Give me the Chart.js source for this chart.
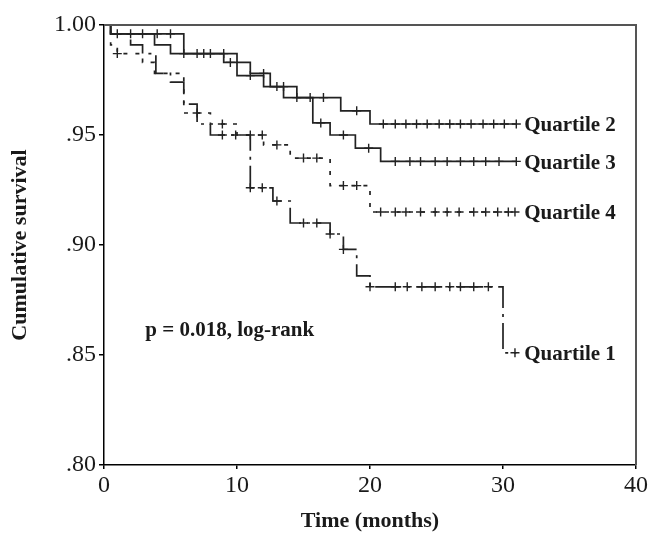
<!DOCTYPE html>
<html>
<head>
<meta charset="utf-8">
<script src="https://cdn.jsdelivr.net/npm/chart.js@4"></script>
<style>
  html, body { margin: 0; padding: 0; background: #fff; }
  #wrap { width: 650px; height: 536px; }
</style>
</head>
<body>
<div id="wrap"><canvas id="kmChart" width="650" height="536"></canvas></div>
<script>
//data block - step points (time in months, cumulative survival)
const q1Times  = [0, 0.5, 2, 2.9, 3.9, 5, 6, 7, 8, 11, 12.7, 14, 17, 18, 19, 20, 30, 31];
const q1Surv   = [1, .996, .991, .987, .978, .974, .964, .955, .950, .926, .920, .910, .905, .898, .886, .881, .851, .851];
const q1Censor = [8.9, 9.9, 11, 11.9, 13, 15, 16, 17, 18, 20, 21.9, 22.8, 23.9, 24.9, 26, 26.8, 27.8, 28.9, 30.9];

const q2Times  = [0, 0.5, 6, 10, 11, 12.5, 14.5, 17.8, 20, 31];
const q2Surv   = [1, .996, .987, .983, .978, .972, .967, .961, .955, .955];
const q2Censor = [1, 2, 2.9, 4, 5, 7, 8, 9, 12, 13.5, 15.5, 16.5, 19, 21, 21.9, 22.7, 23.5, 24.3, 25.2, 26, 26.8, 27.6, 28.5, 29.3, 30.1, 31];

const q3Times  = [0, 0.5, 3.8, 5, 9, 10, 12, 13.5, 15.7, 17, 18.9, 20.8, 31];
const q3Surv   = [1, .996, .991, .987, .983, .977, .972, .967, .9555, .950, .944, .938, .938];
const q3Censor = [6, 7.5, 9.5, 11, 13, 14.5, 16.3, 18, 19.9, 21.9, 23, 23.8, 24.9, 25.8, 26.8, 27.8, 28.7, 29.7, 31];

const q4Times  = [0, 0.5, 1, 2.9, 3.8, 6, 8, 10, 12, 14, 17, 20, 31];
const q4Surv   = [1, .991, .987, .983, .978, .960, .955, .950, .9455, .9395, .927, .915, .915];
const q4Censor = [1, 7, 8.9, 11, 11.9, 13, 15, 16, 18, 19, 20.8, 21.9, 22.7, 23.8, 24.9, 25.8, 26.7, 27.8, 28.7, 29.6, 30.4, 30.9];

const groupNames = ['Quartile 1', 'Quartile 2', 'Quartile 3', 'Quartile 4'];
const xTicks = [0, 10, 20, 30, 40];
const yTicks = [0.80, 0.85, 0.90, 0.95, 1.00];
const pText = 'p = 0.018, log-rank';

const serif = "'Liberation Serif', 'Times New Roman', serif";
const ink = '#222';

// value of the step curve at time t
function levelAt(times, surv, t) {
    let v = surv[0];
    for (let i = 0; i < times.length; i++) {
        if (times[i] <= t) v = surv[i];
    }
    return v;
}

function curve(times, surv, dash) {
    return {
        data: times.map((t, i) => ({ x: t, y: surv[i] })),
        showLine: true,
        stepped: 'before',
        borderColor: ink,
        borderWidth: 1.7,
        borderDash: dash,
        pointRadius: 0,
        fill: false
    };
}

function censors(times, surv, marks) {
    return {
        data: marks.map(t => ({ x: t, y: levelAt(times, surv, t) })),
        showLine: false,
        pointStyle: 'cross',
        pointRadius: 4.5,
        pointBorderWidth: 1.4,
        borderColor: ink,
        backgroundColor: ink
    };
}

const curves = [
    { times: q1Times, surv: q1Surv, marks: q1Censor, dash: [26, 6, 3, 6] },
    { times: q2Times, surv: q2Surv, marks: q2Censor, dash: [] },
    { times: q3Times, surv: q3Surv, marks: q3Censor, dash: [] },
    { times: q4Times, surv: q4Surv, marks: q4Censor, dash: [4, 8] }
];

const datasets = [];
curves.forEach(c => {
    datasets.push(curve(c.times, c.surv, c.dash));
    datasets.push(censors(c.times, c.surv, c.marks));
});

//frame + text labels
const labelPlugin = {
    id: 'kmLabels',
    afterDraw(chart) {
        const { ctx, chartArea, scales } = chart;
        ctx.save();
        // top and right border of the box
        ctx.strokeStyle = '#555';
        ctx.lineWidth = 2;
        ctx.beginPath();
        ctx.moveTo(chartArea.left, chartArea.top);
        ctx.lineTo(chartArea.right, chartArea.top);
        ctx.lineTo(chartArea.right, chartArea.bottom);
        ctx.stroke();

        ctx.fillStyle = '#1a1a1a';
        ctx.textBaseline = 'middle';
        ctx.textAlign = 'left';
        ctx.font = 'bold 21px ' + serif;
        curves.forEach((c, i) => {
            const last = c.surv[c.surv.length - 1];
            ctx.fillText(groupNames[i], scales.x.getPixelForValue(31.6), scales.y.getPixelForValue(last) + 2);
        });
        ctx.font = 'bold 21px ' + serif;
        ctx.fillText(pText, scales.x.getPixelForValue(3.1), scales.y.getPixelForValue(0.861));
        ctx.restore();
    }
};

//config block
const config = {
    type: 'scatter',
    data: { datasets },
    plugins: [labelPlugin],
    options: {
        responsive: false,
        animation: false,
        layout: { padding: { top: 25, right: 10, bottom: 0, left: 0 } },
        plugins: {
            legend: { display: false },
            tooltip: { enabled: false }
        },
        scales: {
            x: {
                type: 'linear',
                min: 0,
                max: 40,
                afterBuildTicks: s => { s.ticks = xTicks.map(v => ({ value: v })); },
                afterFit: s => { s.height = 71; },
                ticks: {
                    color: '#1a1a1a',
                    padding: 2,
                    maxRotation: 0,
                    font: { family: serif, size: 24 },
                    callback: v => String(v)
                },
                grid: { drawOnChartArea: false, tickLength: 4, color: '#000', lineWidth: 1.5 },
                border: { color: '#000', width: 1.5 },
                title: {
                    display: true,
                    text: 'Time (months)',
                    color: '#1a1a1a',
                    font: { family: serif, size: 22, weight: 'bold' },
                    padding: { top: 0, bottom: 1 }
                }
            },
            y: {
                type: 'linear',
                min: 0.8,
                max: 1.0,
                afterBuildTicks: s => { s.ticks = yTicks.map(v => ({ value: v })); },
                afterFit: s => { s.width = 104; },
                ticks: {
                    color: '#1a1a1a',
                    padding: 3,
                    font: { family: serif, size: 24 },
                    callback: v => v >= 1 ? '1.00' : v.toFixed(2).replace(/^0/, '')
                },
                grid: { drawOnChartArea: false, tickLength: 5, color: '#000', lineWidth: 1.5 },
                border: { color: '#000', width: 1.5 },
                title: {
                    display: true,
                    text: 'Cumulative survival',
                    color: '#1a1a1a',
                    font: { family: serif, size: 22, weight: 'bold' },
                    padding: { top: 7, bottom: 0 }
                }
            }
        }
    }
};

//init and render block
new Chart(document.getElementById('kmChart'), config);
</script>
</body>
</html>
